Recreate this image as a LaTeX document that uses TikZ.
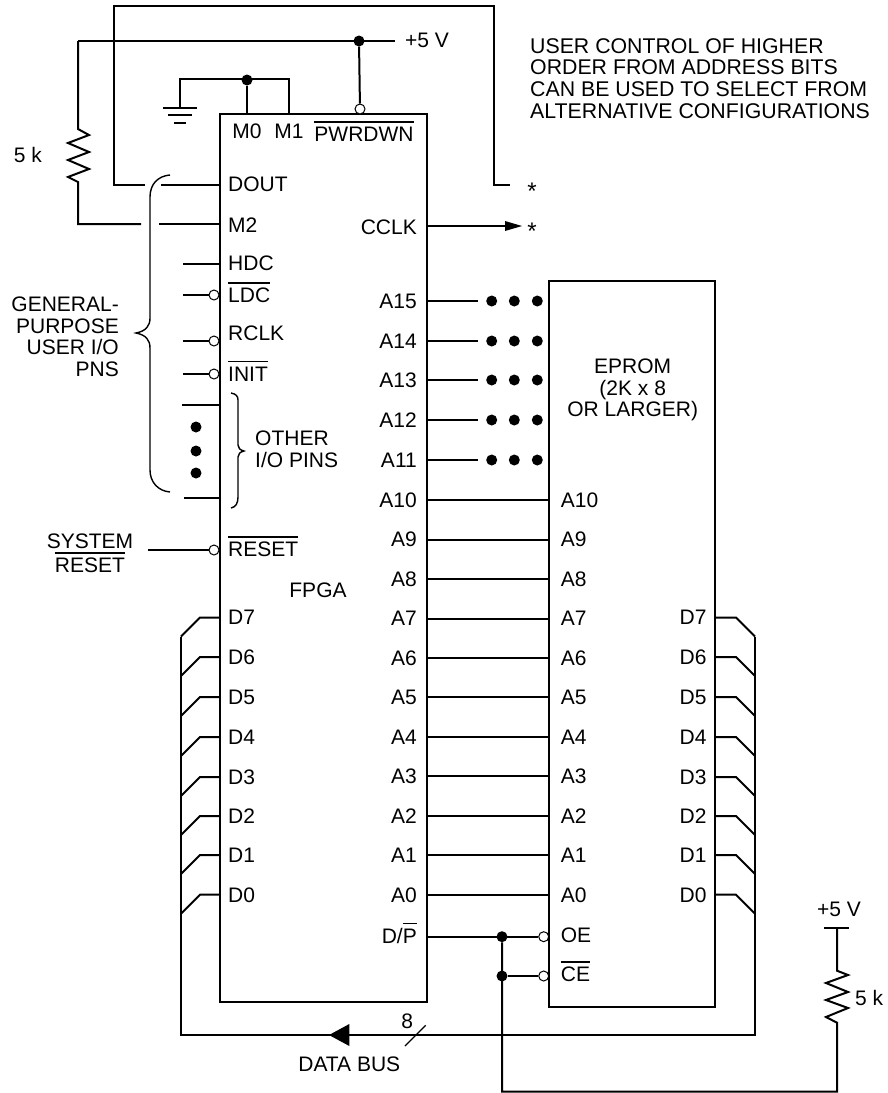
\documentclass[tikz,border=0pt]{standalone}
\usepackage{fontspec}
\setmainfont{Liberation Sans}
\newcommand\ob[1]{\leavevmode\vbox{\hrule height 1.6pt\kern 4.2pt\hbox{#1}}}
\tikzset{
  wire/.style={line width=2pt,line join=miter},
  chip/.style={draw,rectangle,line width=2.2pt,inner sep=0pt},
  lab/.style={font=\fontsize{21}{21.5}\selectfont,inner sep=0pt},
  ll/.style={lab,anchor=base west},
  lr/.style={lab,anchor=base east},
  lc/.style={lab,anchor=base},
  bub/.style={draw,circle,fill=white,line width=1pt,inner sep=0pt,minimum size=10pt},
  jun/.style={circle,fill=black,inner sep=0pt,minimum size=11pt},
  brc/.style={line width=1.4pt}
}
\begin{document}
\begin{tikzpicture}[x=1pt,y=-1pt]
\useasboundingbox (0,0) rectangle (887,1093);
% chips
\node[chip,minimum width=207.3pt,minimum height=887.7pt] (fpga) at (323.4,557.9) {};
\node[chip,minimum width=166.3pt,minimum height=726pt] (eprom) at (632.2,644) {};
% top power
\coordinate (tl) at (114,6); \coordinate (tr) at (494,6); \coordinate (te) at (494,185);
\coordinate (st1) at (510,185);
\coordinate (dl) at (114,185); \coordinate (dg1) at (145,185); \coordinate (dg2) at (161,185); \coordinate (dp) at (220,185);
\draw[wire] (dg1)--(dl)--(tl)--(tr)--(te)--(st1);
\draw[wire] (dg2)--(dp);
\node[lc,font=\fontsize{24}{24}\selectfont] (star1) at (532,199) {*};
\coordinate (pl) at (78,41); \coordinate (pr) at (395,41);
\node[jun] (j5) at (359,41) {};
\node[bub] (bpd) at (360,109) {};
\draw[wire] (pl)--(pr);
\draw[wire] (j5)--(bpd);
\node[ll] (v5a) at (405,47) {+5 V};
% upper resistor
\coordinate (ml) at (78,224); \coordinate (mg1) at (141,224); \coordinate (mg2) at (159,224); \coordinate (mp) at (220,224);
\draw[wire] (pl)--(78,129)--(89,135)--(68,143)--(89,152)--(68,160)--(89,169)--(68,177)--(78,182)--(ml)--(mg1);
\draw[wire] (mg2)--(mp);
\node[lc] (r1) at (28,162) {5 k};
% ground
\coordinate (gl) at (180,79); \coordinate (gr) at (289,79); \coordinate (gb) at (180,108);
\coordinate (m1p) at (289,114); \coordinate (m0p) at (247,114);
\node[jun] (jg) at (247,80) {};
\draw[wire] (gb)--(gl)--(gr)--(m1p);
\draw[wire] (jg)--(m0p);
\draw[line width=2pt] (163,108)--(197,108) (168,115)--(192,115) (174,123)--(186,123);
% fpga top labels
\node[lc] (lm0) at (247,138) {M0};
\node[lc] (lm1) at (289,138) {M1};
\node[lc] (lpd) at (364,141.7) {\ob{PWRDWN}};
% left labels
\node[ll] (ldout) at (228,191) {DOUT};
\node[ll] (lm2) at (228,232) {M2};
\node[ll] (lhdc) at (228,270) {HDC};
\node[ll] (lldc) at (228,302.7) {\ob{LDC}};
\node[ll] (lrclk) at (228,340) {RCLK};
\node[ll] (linit) at (228,381) {\ob{INIT}};
\node[ll] (lrst) at (228,556.7) {\ob{RESET}};
\node[lc] (lf) at (318,597) {FPGA};
% left pins
\draw[wire] (183,264)--(220,264);
\foreach \n/\y in {ldc/295,rclk/341,init/374,rst/550}{
  \node[bub] (b\n) at (214,\y) {};
}
\coordinate (pldc) at (183,295); \coordinate (prclk) at (183,341); \coordinate (pinit) at (183,374); \coordinate (prst) at (148,550);
\draw[wire] (pldc)--(bldc); \draw[wire] (prclk)--(brclk); \draw[wire] (pinit)--(binit); \draw[wire] (prst)--(brst);
\draw[wire] (182,405)--(220,405); \draw[wire] (184,498)--(220,498);
\foreach \y [count=\i] in {427,451,473}{\node[jun] (ld\i) at (196,\y) {};}
% braces
\draw[brc] (170,175) .. controls (158,176) and (150,184) .. (150,197) -- (150,318) .. controls (150,326) and (146,331) .. (136,333) .. controls (146,335) and (150,340) .. (150,348) -- (150,470) .. controls (150,482) and (158,491) .. (170,492);
\draw[brc] (231,393) .. controls (236,394) and (238,396) .. (238,400) -- (238,445) .. controls (238,448) and (240,450) .. (244,451) .. controls (240,452) and (238,454) .. (238,457) -- (238,497) .. controls (238,503) and (236,507) .. (231,508);
\node[lab,align=right,anchor=north east] (lg) at (119,297) {GENERAL-\\PURPOSE\\USER I/O\\PNS};
\node[lab,align=left,anchor=north west] (lo) at (255,431) {OTHER\\I/O PINS};
\node[lc] (ls) at (90,548) {SYSTEM};
\node[lc] (ls2) at (90,572.7) {\ob{RESET}};
% data bus
\foreach \n/\y [count=\i] in {7/617.5,6/657,5/697,4/737,3/777,2/816,1/855,0/894.7}{
  \coordinate (fd\n) at (220,\y);
  \coordinate (fs\n) at (200,\y);
  \coordinate (fb\n) at (181,\y+19);
  \coordinate (ed\n) at (715,\y);
  \coordinate (es\n) at (736,\y);
  \coordinate (eb\n) at (755,\y+19);
  \draw[wire] (fd\n)--(fs\n)--(fb\n);
  \draw[wire] (ed\n)--(es\n)--(eb\n);
  \node[ll] (lfd\n) at (228,\y+7.3) {D\n};
  \node[lr] (led\n) at (706.7,\y+7.3) {D\n};
}
\coordinate (bl) at (181,1034.7); \coordinate (br) at (755,1034.7);
\draw[wire] (fb7)--(bl)--(br)--(eb7);
\fill (329,1035)--(349.3,1024)--(349.3,1046)--cycle;
\draw[line width=1.3pt] (405,1046)--(425.7,1025.3);
\node[lc] (l8) at (407.3,1028.3) {8};
\node[lc] (ldb) at (349.3,1071.7) {DATA BUS};
% address
\foreach \i/\yy in {0/894.7,1/855.2,2/815.8,3/776.3,4/736.9,5/697.4,6/657.9,7/618.5,8/579,9/539.5,10/500,11/460,12/420,13/380,14/341,15/301}{
  \coordinate (fa\i) at (427,\yy);
  \node[lr] (lfa\i) at (417,\yy+7.3) {A\i};
}
\foreach \i/\yy in {0/894.7,1/855.2,2/815.8,3/776.3,4/736.9,5/697.4,6/657.9,7/618.5,8/579,9/539.5,10/500}{
  \coordinate (ea\i) at (549,\yy);
  \draw[wire] (fa\i)--(ea\i);
  \node[ll] (lea\i) at (560.7,\yy+7.3) {A\i};
}
\foreach \i/\yy in {11/460,12/420,13/380,14/341,15/301}{
  \coordinate (st\i) at (477.7,\yy);
  \draw[wire] (fa\i)--(st\i);
  \node[jun] (da\i) at (491.7,\yy) {};
  \node[jun] (db\i) at (514.3,\yy) {};
  \node[jun] (dc\i) at (537.3,\yy) {};
}
% cclk
\coordinate (cc) at (427,226); \coordinate (cct) at (505,226);
\draw[wire] (cc)--(cct);
\fill (522,226)--(505,221)--(505,231)--cycle;
\node[lc,font=\fontsize{24}{24}\selectfont] (star2) at (532,239) {*};
\node[lr] (lcc) at (417,234) {CCLK};
% EPROM text
\node[lab,align=center,anchor=north] (le) at (632.7,359) {EPROM\\(2K x 8\\OR LARGER)};
% oe ce
\coordinate (dpp) at (427,936.7);
\node[jun] (j1) at (502,936.7) {};
\node[jun] (j2) at (502,976) {};
\node[bub] (boe) at (543.7,936.7) {};
\node[bub] (bce) at (543.7,976) {};
\draw[wire] (dpp)--(boe);
\draw[wire] (j2)--(bce);
\coordinate (bb) at (502,1091.7); \coordinate (brr) at (837,1091.7);
\draw[wire] (j1)--(bb)--(brr)--(837,1022.7)--(826,1017)--(848,1008)--(826,1000)--(848,992)--(826,983)--(848,975)--(837,970.7)--(837,928);
\draw[line width=2pt] (824,928)--(849,928);
\node[ll] (loe) at (560.7,942) {OE};
\node[ll] (lce) at (560.7,981.7) {\ob{CE}};
\node[lr] (ldp) at (417,943) {D/\ob{P}};
\node[lc] (v5b) at (839,916.7) {+5 V};
\node[ll] (r2) at (855,1005) {5 k};
\node[lab,align=left,anchor=north west,font=\fontsize{21.3}{21.7}\selectfont] (note) at (530,38) {USER CONTROL OF HIGHER\\ORDER FROM ADDRESS BITS\\CAN BE USED TO SELECT FROM\\ALTERNATIVE CONFIGURATIONS};
\end{tikzpicture}
\end{document}
